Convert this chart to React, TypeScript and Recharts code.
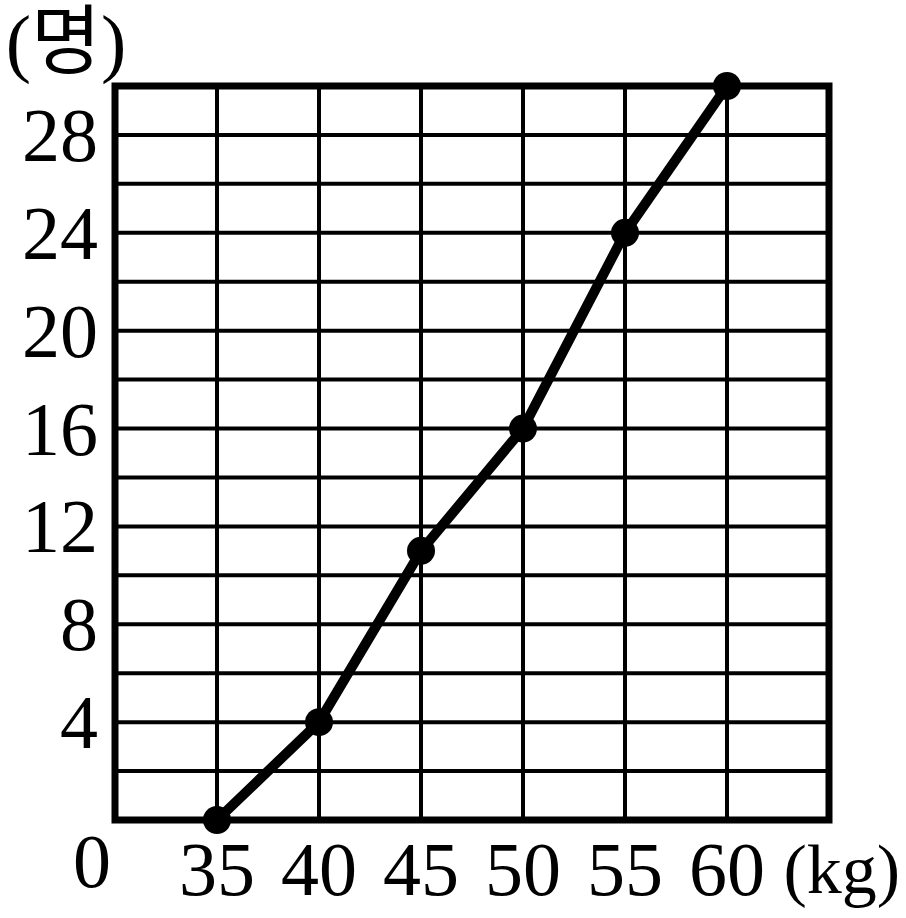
import React from "react";
import {
  CartesianGrid,
  Line,
  LineChart,
  ReferenceArea,
  XAxis,
  YAxis,
} from "recharts";

const weights = [35, 40, 45, 50, 55, 60];
const cumulative = [0, 4, 11, 16, 24, 30];
const yTicks = [4, 8, 12, 16, 20, 24, 28];
const gridRows = [2, 4, 6, 8, 10, 12, 14, 16, 18, 20, 22, 24, 26, 28];
const gridCols = [35, 40, 45, 50, 55, 60];

const data = weights.map((w, i) => ({ w, n: cumulative[i] }));

const FONT = "'Liberation Serif', 'Noto Sans CJK KR', serif";
const SIZE = 76;

function XTick(props: any) {
  const { x, y, payload } = props;
  return (
    <text x={x} y={y + 73} textAnchor="middle" fontFamily={FONT} fontSize={SIZE} fill="#000">
      {payload.value}
    </text>
  );
}

function YTick(props: any) {
  const { x, y, payload } = props;
  return (
    <text x={x - 15} y={y + 26} textAnchor="end" fontFamily={FONT} fontSize={SIZE} fill="#000">
      {payload.value}
    </text>
  );
}

function Dot(props: any) {
  const { cx, cy } = props;
  return <circle cx={cx} cy={cy} r={14} fill="#000" />;
}

export default function App() {
  return (
    <div style={{ position: "absolute", left: 0, top: 0, width: 906, height: 918, background: "#fff" }}>
      <LineChart
        width={906}
        height={918}
        data={data}
        margin={{ top: 86, right: 77, bottom: 0, left: 0 }}
      >
        <CartesianGrid
          stroke="#000"
          strokeWidth={4}
          horizontalValues={gridRows}
          verticalValues={gridCols}
        />
        <XAxis
          type="number"
          dataKey="w"
          domain={[30, 65]}
          ticks={weights}
          height={98}
          axisLine={false}
          tickLine={false}
          tickSize={0}
          tick={<XTick />}
        />
        <YAxis
          type="number"
          domain={[0, 30]}
          ticks={yTicks}
          width={115}
          axisLine={false}
          tickLine={false}
          tickSize={0}
          tick={<YTick />}
        />
        <ReferenceArea
          x1={30}
          x2={65}
          y1={0}
          y2={30}
          fill="none"
          fillOpacity={0}
          stroke="#000"
          strokeWidth={7}
          ifOverflow="visible"
        />
        <Line
          type="linear"
          dataKey="n"
          stroke="#000"
          strokeWidth={10}
          strokeLinejoin="round"
          dot={<Dot />}
          isAnimationActive={false}
        />
      </LineChart>
      <svg
        width={906}
        height={918}
        style={{ position: "absolute", left: 0, top: 0, pointerEvents: "none" }}
      >
        <text x={66} y={68} textAnchor="middle" fontFamily={FONT} fontSize={SIZE} fill="#000">
          (명)
        </text>
        <text x={92} y={887} textAnchor="middle" fontFamily={FONT} fontSize={SIZE} fill="#000">
          0
        </text>
        <text x={900} y={893} textAnchor="end" fontFamily={FONT} fontSize={70} fill="#000">
          (kg)
        </text>
      </svg>
    </div>
  );
}
